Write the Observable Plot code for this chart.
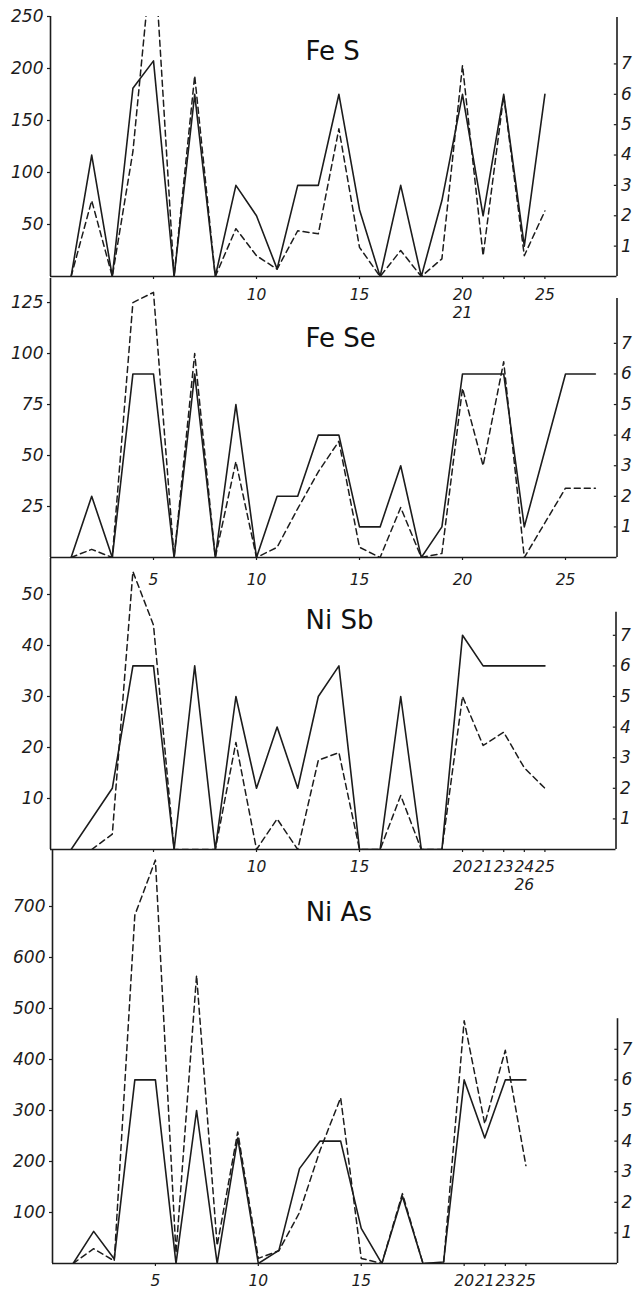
<!DOCTYPE html>
<html><head><meta charset="utf-8">
<script src="https://cdn.jsdelivr.net/npm/d3@7"></script>
<script src="https://cdn.jsdelivr.net/npm/@observablehq/plot@0.6"></script>
<style>
html,body{margin:0;padding:0;background:#fff;}
#chart{position:relative;width:633px;height:1289px;overflow:hidden;background:#fff;}
#chart svg{position:absolute;left:0;top:0;}
</style></head><body><div id="chart"></div>
<script>
// ---------- DATA ----------
// shared right-axis ticks
const rightTicks = [1, 2, 3, 4, 5, 6, 7];

// Fe S  (solid: right-axis units, dashed: left-axis units)
const feS_pos    = [1,2,3,4,5,6,7,8,9,10,11,12,13,14,15,16,17,18,19,20,21,22,23,24];
const feS_solid  = [0,4,0,6.2,7.1,0,6,0,3,2,0.25,3,3,6,2.2,0,3,0,2.5,6,2,6,1,6];
const feS_dash   = [0,73,0,120,325,0,193,0,46,20,7,44,41,142,28,0,25,0,17,203,20,174,20,63];
const feS_leftTicks = [50,100,150,200,250];
const feS_xTicks  = [5,10,15,20,21,22,23,24];
const feS_xLabels = ["","10","15","20\n21","","","","25"];

// Fe Se
const feSe_pos   = [1,2,3,4,5,6,7,8,9,10,11,12,13,14,15,16,17,18,19,20,21,22,23,25,26.45];
const feSe_solid = [0,2,0,6,6,0,6,0,5,0,2,2,4,4,1,1,3,0,1,6,6,6,1,6,6];
const feSe_dash  = [0,4,0,125,130,0,100,0,47,0,5,24,42,57,5,0,24.5,0,2,83,45,96,0,34,34];
const feSe_leftTicks = [25,50,75,100,125];
const feSe_xTicks  = [5,10,15,20,25];
const feSe_xLabels = ["5","10","15","20","25"];

// Ni Sb
const niSb_solidPos = [1,3,4,5,6,7,8,9,10,11,12,13,14,15,16,17,18,19,20,21,22,23,24];
const niSb_solid    = [0,2,6,6,0,6,0,5,2,4,2,5,6,0,0,5,0,0,7,6,6,6,6];
const niSb_dashPos  = [2,3,4,5,6,7,8,9,10,11,12,13,14,15,16,17,18,19,20,21,22,23,24];
const niSb_dash     = [0,3,54.5,44,0,0,0,21,0,6,0,17.5,19,0,0,10.6,0,0,30,20.4,23,16,12];
const niSb_leftTicks = [10,20,30,40,50];
const niSb_xTicks  = [5,10,15,20,21,22,23,24];
const niSb_xLabels = ["","10","15","20","21","23","24\n26","25"];

// Ni As
const niAs_pos   = [1,2,3,4,5,6,7,8,9,10,11,12,13,14,15,16,17,18,19,20,21,22,23];
const niAs_solid = [0,1.05,0.15,6,6,0,5,0,4.1,0,0.43,3.1,4,4,1.15,0,2.2,0,0.05,6,4.1,6,6];
const niAs_dash  = [0,29,5,683,791,20,565,35,258,10,25,100,222,325,10,0,137,0,0,476,274,418,192];
const niAs_leftTicks = [100,200,300,400,500,600,700];
const niAs_xTicks  = [5,10,15,20,21,22,23];
const niAs_xLabels = ["5","10","15","20","21","23","25"];

// ---------- LAYOUT ----------
const W = 633, H = 1289, ink = "#1c1c1c";
const panels = [
  {title:"Fe S",  solidPos:feS_pos, solid:feS_solid, dashPos:feS_pos, dash:feS_dash,
   leftTicks:feS_leftTicks, xTicks:feS_xTicks, xLabels:feS_xLabels,
   ml:50, mr:16.5, xMax:27.5, top:16, base:276, yMax:250, k:29.2, rightTop:249,
   xPad:8, titleX:12.38, titleY:208.6},
  {title:"Fe Se", solidPos:feSe_pos, solid:feSe_solid, dashPos:feSe_pos, dash:feSe_dash,
   leftTicks:feSe_leftTicks, xTicks:feSe_xTicks, xLabels:feSe_xLabels,
   ml:50, mr:16.5, xMax:27.5, top:278, base:557, yMax:136.8, k:15, rightTop:127,
   xPad:12, titleX:12.38, titleY:103},
  {title:"Ni Sb", solidPos:niSb_solidPos, solid:niSb_solid, dashPos:niSb_dashPos, dash:niSb_dash,
   leftTicks:niSb_leftTicks, xTicks:niSb_xTicks, xLabels:niSb_xLabels,
   ml:50, mr:17.5, xMax:27.45, top:558, base:849, yMax:57.06, k:6, rightTop:46.5,
   xPad:7, titleX:12.38, titleY:43.3},
  {title:"Ni As", solidPos:niAs_pos, solid:niAs_solid, dashPos:niAs_pos, dash:niAs_dash,
   leftTicks:niAs_leftTicks, xTicks:niAs_xTicks, xLabels:niAs_xLabels,
   ml:52, mr:16, xMax:27.45, top:850, base:1263, yMax:809.8, k:60, rightTop:480,
   xPad:7, titleX:12.3, titleY:672}
];

function panel(c) {
  const solidData = c.solidPos.map((x, i) => ({x, y: c.solid[i] * c.k}));
  const dashData = c.dashPos.map((x, i) => ({x, y: c.dash[i]}));
  const labelMap = new Map(c.xTicks.map((t, i) => [t, c.xLabels[i]]));
  return Plot.plot({
    width: W, height: H,
    marginLeft: c.ml, marginRight: c.mr, marginTop: c.top, marginBottom: H - c.base,
    x: {domain: [0, c.xMax]},
    y: {domain: [0, c.yMax]},
    style: {background: "transparent", overflow: "visible", color: ink,
            fontFamily: "DejaVu Sans", fontSize: "17px", fontStyle: "italic"},
    marks: [
      Plot.ruleY([0], {stroke: ink, strokeWidth: 1.6}),
      Plot.ruleX([0], {stroke: ink, strokeWidth: 1.6}),
      Plot.ruleX([c.xMax], {y1: 0, y2: c.rightTop, stroke: ink, strokeWidth: 1.6}),
      Plot.axisY(c.leftTicks, {anchor: "left", tickSize: 3, tickPadding: 4, label: null, strokeWidth: 1.2}),
      Plot.axisY(rightTicks.map(t => t * c.k), {anchor: "right", tickSize: 0, tickPadding: 4,
        label: null, tickFormat: d => String(Math.round(d / c.k))}),
      Plot.ruleY(rightTicks, {y: t => t * c.k, x1: c.xMax - 0.13, x2: c.xMax, stroke: ink, strokeWidth: 1.2}),
      Plot.axisX(c.xTicks, {anchor: "bottom", tickSize: 3, tickPadding: c.xPad, label: null,
        tickFormat: d => labelMap.get(d), lineHeight: 1.15, fontSize: 15.5, strokeWidth: 1.2}),
      Plot.line(dashData, {x: "x", y: "y", stroke: ink, strokeWidth: 1.5, strokeDasharray: "6,4", clip: true}),
      Plot.line(solidData, {x: "x", y: "y", stroke: ink, strokeWidth: 1.6, clip: true}),
      Plot.text([c.title], {x: c.titleX, y: c.titleY, text: d => d, textAnchor: "start",
        lineAnchor: "bottom", fontSize: 26, fontStyle: "normal", fontFamily: "DejaVu Sans", fill: "#111"})
    ]
  });
}

const root = document.getElementById("chart");
for (const c of panels) root.appendChild(panel(c));
</script>
</body></html>
